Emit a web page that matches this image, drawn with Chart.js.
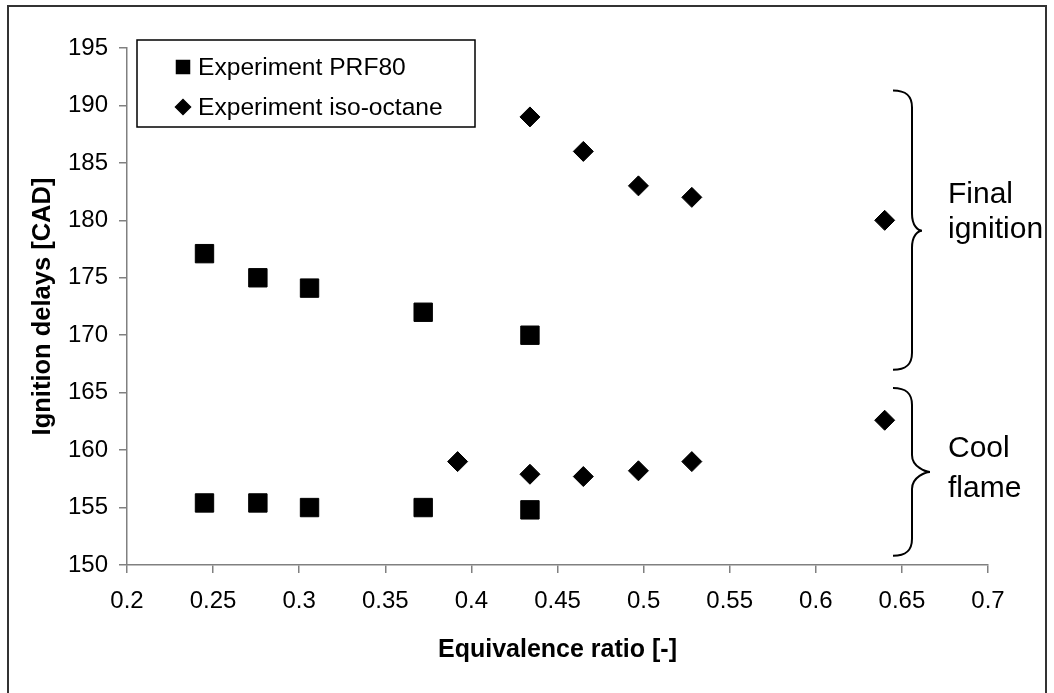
<!DOCTYPE html>
<html>
<head>
<meta charset="utf-8">
<title>Ignition delays vs equivalence ratio</title>
<script src="https://cdn.jsdelivr.net/npm/chart.js@4.4.0/dist/chart.umd.min.js"></script>
<style>
    html, body { margin: 0; padding: 0; background: #fff; }
    #chart { display: block; }
</style>
</head>
<body>
<canvas id="chart" width="1054" height="693"></canvas>
<script>
// PRF80: final ignition and cool flame delays [CAD]
const prf80Phi = [0.245, 0.276, 0.306, 0.372, 0.434];
const prf80Final = [177.1, 175.0, 174.1, 172.0, 170.0];
const prf80Cool = [155.4, 155.4, 155.0, 155.0, 154.8];

// iso-octane
const isoFinalPhi = [0.434, 0.465, 0.497, 0.528, 0.640];
const isoFinal = [189.0, 186.0, 183.0, 182.0, 180.0];
const isoCoolPhi = [0.392, 0.434, 0.465, 0.497, 0.528, 0.640];
const isoCool = [159.0, 157.9, 157.7, 158.2, 159.0, 162.6];

// Axis ticks
const xTickValues = [0.2, 0.25, 0.3, 0.35, 0.4, 0.45, 0.5, 0.55, 0.6, 0.65, 0.7];
const yTickValues = [150, 155, 160, 165, 170, 175, 180, 185, 190, 195];

const FONT = '"Liberation Sans", Arial, sans-serif';

const toPoints = (xs, ys) => xs.map((x, i) => ({ x: x, y: ys[i] }));

// Curly braces on the right, spans given in axis units
const braces = [
    { top: 191.3, bottom: 167.0, tip: 179.1, tipOut: 10, lines: [['Final', 181.5], ['ignition', 178.5]] },
    { top: 165.4, bottom: 150.8, tip: 158.1, tipOut: 18, lines: [['Cool', 159.4], ['flame', 155.9]] }
];

// White background + outer frame
const framePlugin = {
    id: 'frame',
    beforeDraw(chart) {
        const ctx = chart.ctx;
        ctx.save();
        ctx.fillStyle = '#fff';
        ctx.fillRect(0, 0, chart.width, chart.height);
        ctx.strokeStyle = '#333';
        ctx.lineWidth = 2;
        ctx.strokeRect(8, 6, 1038, 720);
        ctx.restore();
    }
};

// Boxed legend inside the plot area
const legendBoxPlugin = {
    id: 'legendBox',
    afterDraw(chart) {
        const ctx = chart.ctx;
        const area = chart.chartArea;
        const left = area.left + 10, top = area.top - 8;
        ctx.save();
        ctx.strokeStyle = '#000';
        ctx.lineWidth = 1.5;
        ctx.strokeRect(left, top, 338, 87);

        ctx.font = '24.6px ' + FONT;
        ctx.textBaseline = 'middle';
        ctx.fillStyle = '#000';
        ctx.strokeStyle = '#000';
        chart.data.datasets.forEach((ds, i) => {
            const y = top + 27 + i * 40;
            const r = ds.pointStyle === 'rect' ? 9.2 : 7.5;
            Chart.helpers.drawPoint(ctx, { pointStyle: ds.pointStyle, radius: r, borderWidth: 1, rotation: 0 }, left + 46, y);
            ctx.fillText(ds.label, left + 61, y + 1);
        });
        ctx.restore();
    }
};

// Braces and their labels
const bracePlugin = {
    id: 'braces',
    afterDraw(chart) {
        const ctx = chart.ctx;
        const ys = chart.scales.y;
        const x = chart.chartArea.right - 76;
        ctx.save();
        ctx.strokeStyle = '#000';
        ctx.lineWidth = 2;
        braces.forEach(b => {
            const y0 = ys.getPixelForValue(b.top);
            const y1 = ys.getPixelForValue(b.bottom);
            const yt = ys.getPixelForValue(b.tip);
            ctx.beginPath();
            ctx.moveTo(x - 19, y0);
            ctx.bezierCurveTo(x - 6, y0, x, y0 + 5, x, y0 + 17);
            ctx.lineTo(x, yt - 17);
            ctx.bezierCurveTo(x, yt - 5, x + b.tipOut - 4, yt, x + b.tipOut, yt);
            ctx.bezierCurveTo(x + b.tipOut - 4, yt, x, yt + 5, x, yt + 17);
            ctx.lineTo(x, y1 - 17);
            ctx.bezierCurveTo(x, y1 - 5, x - 6, y1, x - 19, y1);
            ctx.stroke();

            ctx.font = '30px ' + FONT;
            ctx.fillStyle = '#000';
            ctx.textBaseline = 'alphabetic';
            b.lines.forEach(([text, v]) => {
                ctx.fillText(text, x + 36, ys.getPixelForValue(v));
            });
        });
        ctx.restore();
    }
};

const axisGrid = { drawOnChartArea: false, drawTicks: true, tickLength: 8, color: '#808080', lineWidth: 1.5 };
const axisBorder = { color: '#808080', width: 1.5 };

const chart = new Chart(document.getElementById('chart'), {
    type: 'scatter',
    data: {
        datasets: [
            {
                label: 'Experiment PRF80',
                data: toPoints(prf80Phi, prf80Final).concat(toPoints(prf80Phi, prf80Cool)),
                pointStyle: 'rect',
                pointRadius: 13,
                backgroundColor: '#000',
                borderColor: '#000',
                borderWidth: 1
            },
            {
                label: 'Experiment iso-octane',
                data: toPoints(isoFinalPhi, isoFinal).concat(toPoints(isoCoolPhi, isoCool)),
                pointStyle: 'rectRot',
                pointRadius: 10,
                backgroundColor: '#000',
                borderColor: '#000',
                borderWidth: 1
            }
        ]
    },
    options: {
        responsive: false,
        animation: false,
        devicePixelRatio: 1,
        layout: { padding: { left: 8, right: 66, top: 48, bottom: 0 } },
        plugins: {
            legend: { display: false },
            tooltip: { enabled: false }
        },
        scales: {
            x: {
                type: 'linear',
                min: 0.2,
                max: 0.7,
                afterBuildTicks: s => { s.ticks = xTickValues.map(v => ({ value: v })); },
                afterFit: s => { s.height = 128; },
                grid: axisGrid,
                border: axisBorder,
                ticks: {
                    color: '#000',
                    font: { size: 24, family: FONT },
                    padding: 14,
                    maxRotation: 0,
                    autoSkip: false,
                    callback: v => String(v)
                },
                title: {
                    display: true,
                    text: 'Equivalence ratio [-]',
                    color: '#000',
                    font: { size: 25, weight: 'bold', family: FONT },
                    padding: { top: 0, bottom: 28 }
                }
            },
            y: {
                type: 'linear',
                min: 150,
                max: 195,
                afterBuildTicks: s => { s.ticks = yTickValues.map(v => ({ value: v })); },
                afterFit: s => { s.width = 119; },
                grid: axisGrid,
                border: axisBorder,
                ticks: {
                    color: '#000',
                    font: { size: 24, family: FONT },
                    padding: 11,
                    autoSkip: false,
                    callback: v => String(v)
                },
                title: {
                    display: true,
                    text: 'Ignition delays [CAD]',
                    color: '#000',
                    font: { size: 25.5, weight: 'bold', family: FONT },
                    padding: { top: 20, bottom: 0 }
                }
            }
        }
    },
    plugins: [framePlugin, legendBoxPlugin, bracePlugin]
});
</script>
</body>
</html>
